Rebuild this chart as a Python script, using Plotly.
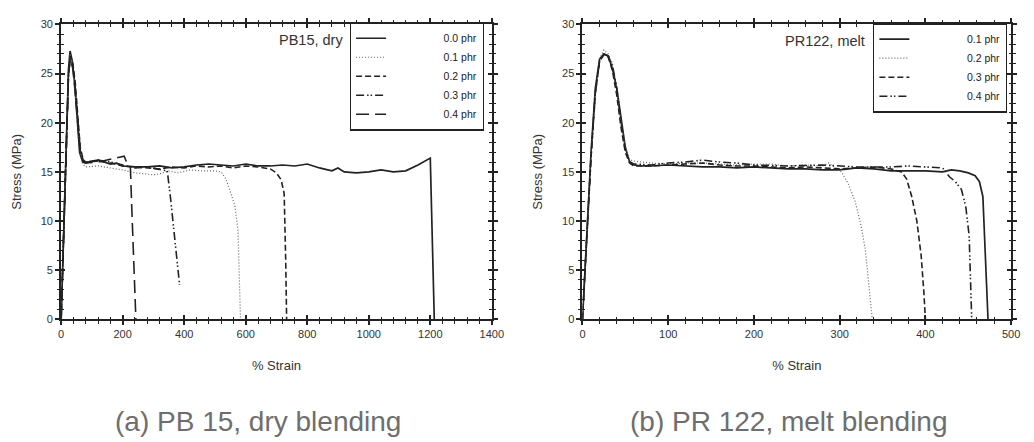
import plotly.graph_objects as go

# ---------------- data: (a) PB 15, dry blending ----------------
pb_names = ["0.0 phr", "0.1 phr", "0.2 phr", "0.3 phr", "0.4 phr"]

pb00_x = [0, 8, 16, 24, 29, 36, 44, 52, 60, 70, 80, 100, 120, 140, 160, 180, 200, 240, 280, 320,
          360, 400, 440, 480, 520, 560, 600, 640, 680, 720, 760, 800, 840, 880, 900, 920, 960, 1000,
          1040, 1080, 1120, 1160, 1200, 1213]
pb00_y = [0, 9, 19, 25.5, 27.3, 26.3, 24, 20, 17, 16.0, 15.9, 16.1, 16.2, 16.0, 15.8, 15.9, 15.6, 15.5,
          15.5, 15.6, 15.4, 15.5, 15.7, 15.8, 15.7, 15.6, 15.8, 15.6, 15.6, 15.7, 15.6, 15.8, 15.4, 15.1,
          15.4, 15.0, 14.9, 15.0, 15.2, 15.0, 15.1, 15.7, 16.4, 0]

pb01_x = [0, 8, 16, 24, 29, 36, 44, 52, 60, 70, 80, 120, 160, 200, 240, 280, 300, 320, 350, 380,
          420, 460, 500, 520, 535, 550, 565, 575, 580, 583]
pb01_y = [0, 9, 19, 25.5, 27.0, 26.2, 24, 20, 17, 15.8, 15.5, 15.6, 15.4, 15.2, 14.9, 14.8, 14.7, 14.8,
          15.1, 14.9, 15.2, 15.1, 15.1, 15.0, 14.3, 13.0, 11.5, 9.0, 4.0, 0]

pb02_x = [0, 8, 16, 24, 30, 38, 46, 54, 62, 72, 80, 120, 160, 200, 240, 280, 320, 360, 400, 440,
          480, 520, 560, 600, 640, 680, 700, 715, 725, 730, 733]
pb02_y = [0, 8, 18, 25, 26.8, 26.0, 24, 21, 17.5, 16.2, 16.0, 16.1, 15.9, 15.6, 15.5, 15.4, 15.3, 15.5,
          15.4, 15.6, 15.5, 15.6, 15.4, 15.6, 15.5, 15.3, 14.9, 14.2, 12.8, 6.0, 0]

pb03_x = [0, 8, 16, 24, 30, 38, 46, 54, 62, 72, 80, 120, 160, 200, 240, 280, 320, 345, 355, 365, 375, 385]
pb03_y = [0, 8, 18, 25, 26.6, 25.8, 23.5, 20.5, 17.2, 16.1, 16.0, 16.2, 16.0, 15.7, 15.4, 15.5, 15.3,
          15.1, 12.5, 9.5, 6.5, 3.5]

pb04_x = [0, 8, 16, 24, 30, 38, 46, 54, 62, 72, 80, 120, 150, 180, 205, 215, 225, 230, 235, 240, 243]
pb04_y = [0, 8, 18, 25, 26.5, 25.5, 23, 20, 17, 16.1, 15.9, 16.0, 16.2, 16.4, 16.6, 15.8, 15.5, 11, 6, 2, 0]

# ---------------- data: (b) PR 122, melt blending ----------------
pr_names = ["0.1 phr", "0.2 phr", "0.3 phr", "0.4 phr"]

pr01_x = [0, 5, 10, 15, 20, 25, 30, 35, 40, 45, 50, 55, 60, 70, 80, 100, 120, 140, 160, 180,
          200, 220, 240, 260, 280, 300, 320, 340, 360, 380, 400, 420, 430, 440, 450, 458, 463, 467, 470, 473]
pr01_y = [0, 9, 17, 23.5, 26.5, 27.0, 26.8, 25.5, 23.5, 20.5, 17.5, 16.0, 15.7, 15.6, 15.6, 15.7, 15.6,
          15.5, 15.5, 15.4, 15.5, 15.4, 15.3, 15.3, 15.2, 15.2, 15.4, 15.3, 15.1, 15.1, 15.1, 15.0, 15.2,
          15.1, 14.9, 14.6, 14.0, 12.5, 6, 0]

pr02_x = [0, 5, 10, 15, 20, 25, 30, 35, 40, 45, 50, 55, 60, 80, 100, 120, 140, 160, 180, 200,
          220, 240, 260, 280, 287, 295, 302, 310, 318, 325, 330, 334, 338]
pr02_y = [0, 9, 17, 23.5, 26.5, 27.4, 27.0, 26.0, 23.5, 20.0, 17.5, 16.2, 16.1, 15.9, 15.8, 15.9, 15.9,
          15.8, 15.7, 15.8, 15.8, 15.6, 15.7, 15.6, 15.9, 15.4, 15.0, 13.8, 12.0, 9.5, 7.0, 3.5, 0]

pr03_x = [0, 5, 10, 15, 20, 25, 30, 35, 40, 45, 50, 55, 60, 80, 100, 120, 140, 160, 180, 200,
          220, 240, 260, 280, 300, 320, 340, 360, 372, 378, 384, 390, 395, 398, 400]
pr03_y = [0, 8.5, 16.5, 23, 26.3, 26.9, 26.7, 25.3, 22.8, 19.5, 17.0, 15.9, 15.6, 15.6, 15.7, 15.8,
          15.9, 15.7, 15.6, 15.6, 15.5, 15.4, 15.5, 15.4, 15.3, 15.4, 15.5, 15.3, 15.0, 14.3, 12.5, 10.0,
          6.5, 3.0, 0]

pr04_x = [0, 5, 10, 15, 20, 25, 30, 35, 40, 45, 50, 55, 60, 80, 100, 120, 140, 160, 180, 200,
          240, 280, 320, 360, 380, 400, 420, 428, 435, 442, 447, 451, 453, 454]
pr04_y = [0, 8.5, 16.5, 23, 26.3, 27.0, 26.8, 25.8, 23.5, 20.0, 17.2, 16.0, 15.8, 15.7, 15.9, 16.0,
          16.2, 16.0, 15.9, 15.7, 15.6, 15.7, 15.5, 15.5, 15.6, 15.5, 15.4, 14.5, 14.0, 13.2, 11.5, 8.5,
          4.0, 0]

# ---------------- styles ----------------
DARK = "#222222"
TXT = "#333333"
FONT = "Liberation Sans, Arial, sans-serif"
styles = {
    "solid": dict(color=DARK, width=1.7, dash="solid"),
    "dot": dict(color="#666666", width=1.2, dash="1px,2px"),
    "dash": dict(color=DARK, width=1.6, dash="6px,3px"),
    "dashdotdot": dict(color=DARK, width=1.6, dash="8px,3px,1.5px,2px,1.5px,3px"),
    "longdash": dict(color=DARK, width=1.6, dash="13px,6px"),
}
pad = "\u00a0" * 18

fig = go.Figure()

pb_series = [(pb00_x, pb00_y, "solid"), (pb01_x, pb01_y, "dot"), (pb02_x, pb02_y, "dash"),
             (pb03_x, pb03_y, "dashdotdot"), (pb04_x, pb04_y, "longdash")]
for name, (xs, ys, st) in zip(pb_names, pb_series):
    fig.add_trace(go.Scatter(x=xs, y=ys, mode="lines", name=pad + name, line=styles[st],
                             xaxis="x", yaxis="y", legend="legend"))

pr_series = [(pr01_x, pr01_y, "solid"), (pr02_x, pr02_y, "dot"), (pr03_x, pr03_y, "dash"),
             (pr04_x, pr04_y, "dashdotdot")]
for name, (xs, ys, st) in zip(pr_names, pr_series):
    fig.add_trace(go.Scatter(x=xs, y=ys, mode="lines", name=pad + name, line=styles[st],
                             xaxis="x2", yaxis="y2", legend="legend2"))

# empty twin subplots (same place) that carry the inward half of the ticks
fig.add_trace(go.Scatter(x=[None], y=[None], xaxis="x3", yaxis="y3", showlegend=False))
fig.add_trace(go.Scatter(x=[None], y=[None], xaxis="x4", yaxis="y4", showlegend=False))

YDOM = [1 - 322 / 442, 1 - 19 / 442]
XDOM1 = [59 / 1034, 496 / 1034]
XDOM2 = [588 / 1034, 1023 / 1034]
tickfont = dict(family=FONT, size=11, color=TXT)
titlefont = dict(family=FONT, size=13, color=TXT)


def ax(domain, rng, dtick, mdtick, anchor, ticks, title=None, standoff=None):
    d = dict(domain=domain, range=rng, dtick=dtick, tick0=0, tickmode="linear", anchor=anchor,
             showgrid=False, zeroline=False, showline=True, linecolor=DARK, linewidth=2,
             mirror="allticks", ticks=ticks, ticklen=4, tickwidth=1.5, tickcolor=DARK,
             minor=dict(dtick=mdtick, tick0=0, tickmode="linear", ticks=ticks, ticklen=2.5,
                        tickwidth=1.2, tickcolor=DARK, showgrid=False),
             showticklabels=title is not None, tickfont=tickfont)
    if title is not None:
        d["title"] = dict(text=title, font=titlefont, standoff=standoff)
    return d


legfont = dict(family=FONT, size=10.5, color="#222222")
fig.update_layout(
    width=1034, height=442,
    margin=dict(l=0, r=0, t=0, b=0),
    paper_bgcolor="white", plot_bgcolor="rgba(0,0,0,0)",
    xaxis=ax(XDOM1, [0, 1400], 200, 40, "y", "outside", "% Strain", 21),
    yaxis=ax(YDOM, [0, 30], 5, 1, "x", "outside", "Stress (MPa)", 16),
    xaxis2=ax(XDOM2, [0, 500], 100, 20, "y2", "outside", "% Strain", 21),
    yaxis2=ax(YDOM, [0, 30], 5, 1, "x2", "outside", "Stress (MPa)", 16),
    xaxis3=ax(XDOM1, [0, 1400], 200, 40, "y3", "inside"),
    yaxis3=ax(YDOM, [0, 30], 5, 1, "x3", "inside"),
    xaxis4=ax(XDOM2, [0, 500], 100, 20, "y4", "inside"),
    yaxis4=ax(YDOM, [0, 30], 5, 1, "x4", "inside"),
    legend=dict(x=352 / 1034, y=1 - 17 / 442, xanchor="left", yanchor="top",
                bgcolor="white", bordercolor=DARK, borderwidth=1.2, tracegroupgap=0, font=legfont),
    legend2=dict(x=883 / 1034, y=1 - 18 / 442, xanchor="left", yanchor="top",
                 bgcolor="white", bordercolor=DARK, borderwidth=1.2, tracegroupgap=0, font=legfont),
    showlegend=True,
    annotations=[
        dict(text="PB15, dry", x=346.7 / 1034, y=1 - 35 / 442, xref="paper", yref="paper",
             xanchor="right", yanchor="middle", showarrow=False,
             font=dict(family=FONT, size=14.5, color=TXT)),
        dict(text="PR122, melt", x=876.7 / 1034, y=1 - 36 / 442, xref="paper", yref="paper",
             xanchor="right", yanchor="middle", showarrow=False,
             font=dict(family=FONT, size=14.5, color=TXT)),
        dict(text="(a) PB 15, dry blending", x=259 / 1034, y=1 - 427 / 442, xref="paper", yref="paper",
             xanchor="center", yanchor="middle", showarrow=False,
             font=dict(family=FONT, size=28, color="#6e6e6e")),
        dict(text="(b) PR 122, melt blending", x=797.5 / 1034, y=1 - 427 / 442, xref="paper", yref="paper",
             xanchor="center", yanchor="middle", showarrow=False,
             font=dict(family=FONT, size=28, color="#6e6e6e")),
    ],
)

fig.write_html("out.html")
